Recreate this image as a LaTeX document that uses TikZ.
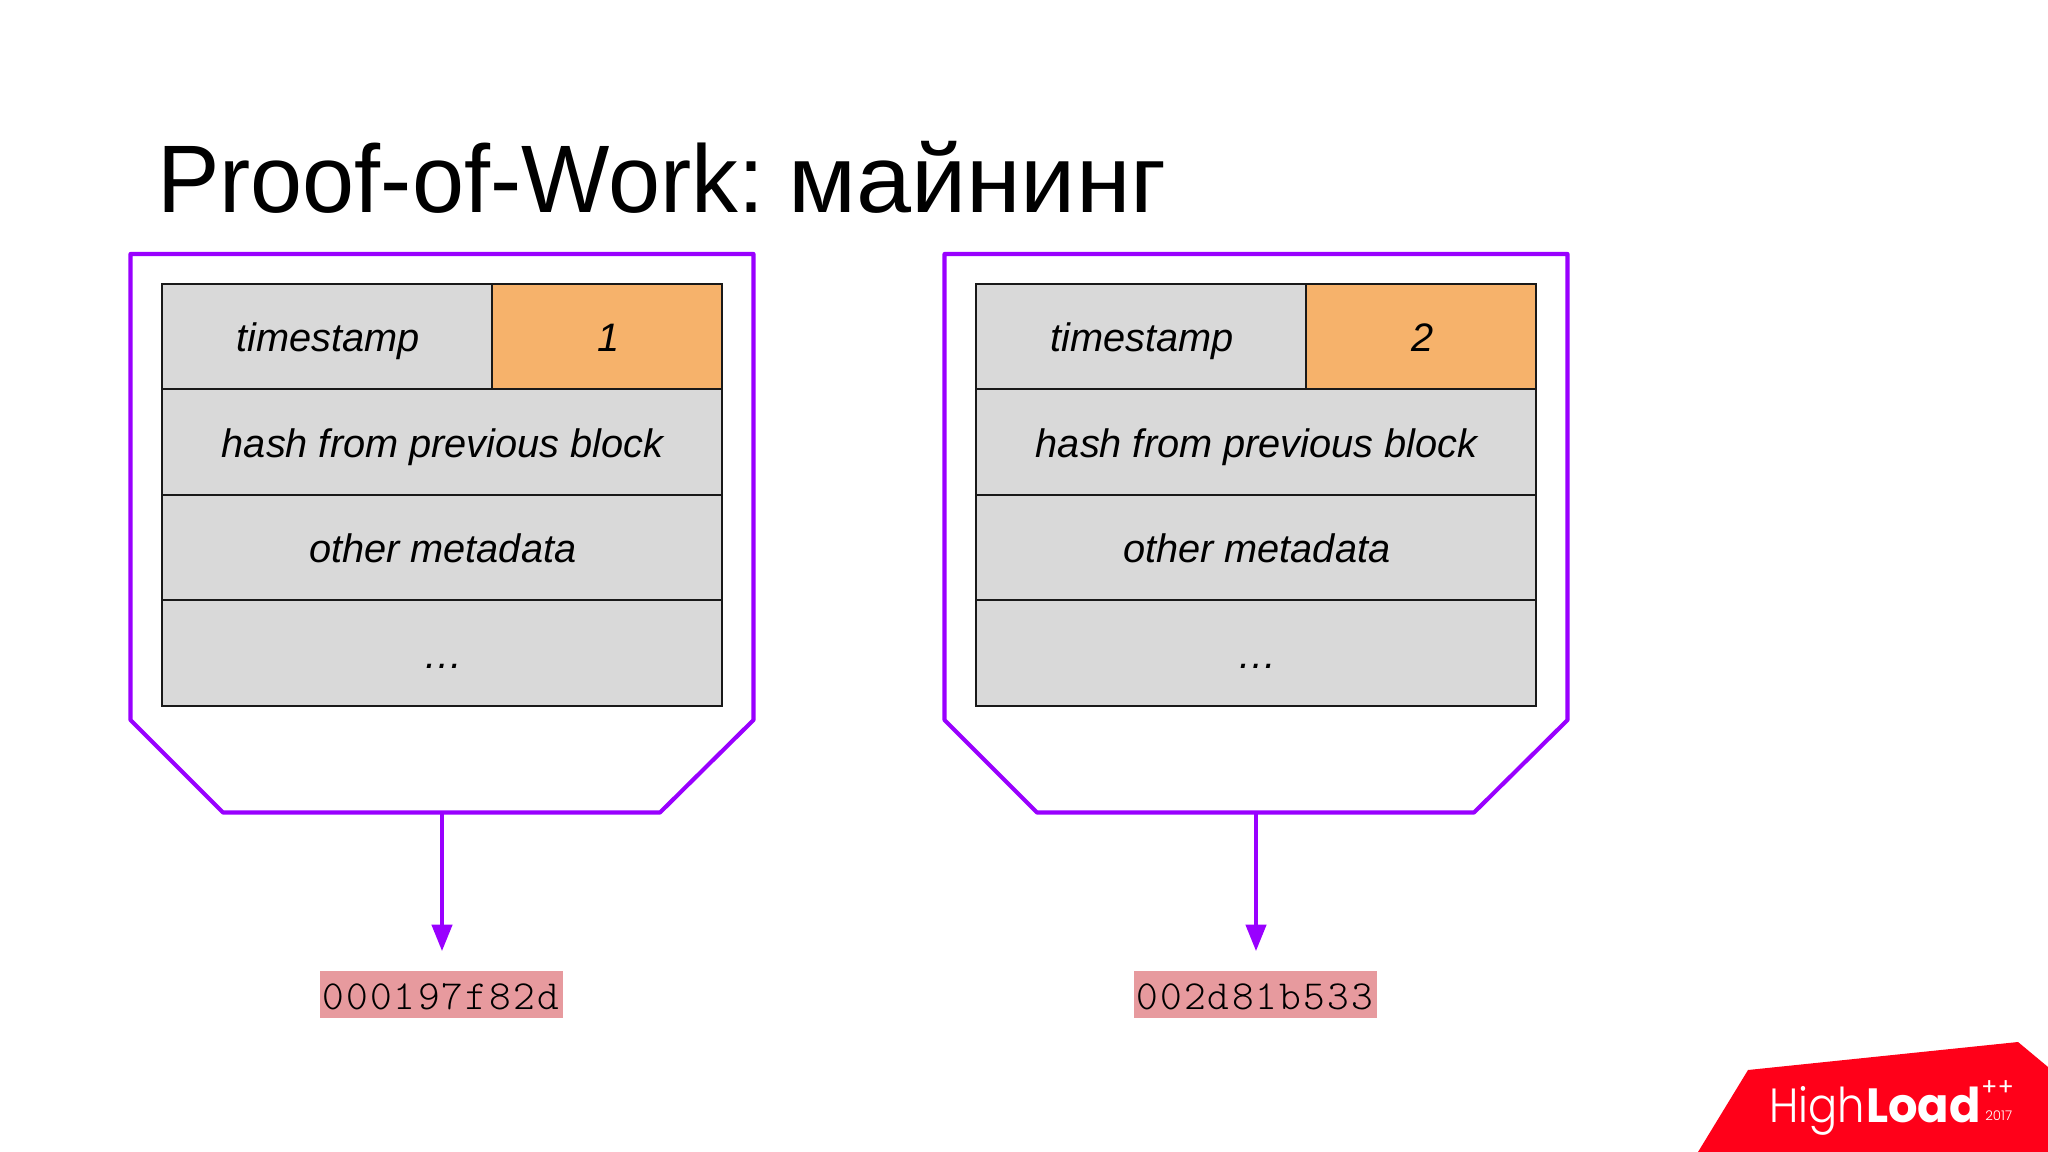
\documentclass[tikz,border=0pt]{standalone}
\usepackage{fontspec}
\usepackage{graphicx}
\usetikzlibrary{arrows.meta}
\setmainfont{Liberation Sans}
\newfontfamily\logolight{Poppins Light}
\newfontfamily\logofont{Poppins}
\newfontfamily\hashfont[LetterSpace=5.5]{Latin Modern Mono Light}
\definecolor{pow}{HTML}{9900FF}
\definecolor{cellgray}{HTML}{D9D9D9}
\definecolor{cellorange}{HTML}{F6B26B}
\definecolor{hashpink}{HTML}{E79A9E}
\definecolor{logored}{HTML}{FF0019}
\tikzset{
  cell/.style={draw=black!90,line width=1.7pt,fill=cellgray,inner sep=0pt,minimum height=79.1pt,
    text height=28pt,text depth=5.1pt,font=\fontsize{29.8}{36}\selectfont\itshape},
  rowcell/.style={cell,minimum width=420pt},
  tscell/.style={cell,minimum width=247.5pt},
  numcell/.style={cell,minimum width=172.5pt,fill=cellorange},
  frame/.style={draw=pow,line width=3.1pt,line join=round},
  hashbox/.style={fill=hashpink,inner sep=0pt,minimum width=182.25pt,minimum height=35.5pt,
    text height=28pt,text depth=6.25pt,font=\hashfont\fontsize{31}{40}\selectfont},
  hasharrow/.style={draw=pow,line width=3.4pt,shorten >=14.5pt,
    -{Triangle[length=20pt,width=15pt,fill=pow]}},
}
\newcommand{\powblock}[3]{%
  \begin{scope}[shift={(#1,0)}]
    \coordinate (p1) at (130.5,254);
    \coordinate (p2) at (753.5,254);
    \coordinate (p3) at (753.5,720);
    \coordinate (p4) at (660,812.5);
    \coordinate (p5) at (223,812.5);
    \coordinate (p6) at (130.5,720);
    \draw[frame] (p1) -- (p2) -- (p3) -- (p4) -- (p5) -- (p6) -- cycle;
    \node[tscell] (ts) at (327,336.4) {\hspace*{2pt}timestamp};
    \node[numcell] (num) at (607,336.4) {\hspace*{2pt}#2};
    \node[rowcell] (hash) at (442,441.9) {\hspace*{1pt}hash from previous block};
    \node[rowcell] (meta) at (442,547.4) {\hspace*{1pt}other metadata};
    \node[rowcell] (more) at (442,652.9) {\hspace*{2pt}\dots};
    \coordinate (out) at (442,812);
    \node[hashbox] (res) at (441.5,994.5) {#3\hspace*{1pt}};
    \draw[hasharrow] (out) -- (out |- res.north);
  \end{scope}}
\begin{document}
\begin{tikzpicture}[x=0.75pt,y=-0.75pt]
  \useasboundingbox[fill=white] (0,0) rectangle (2048,1152);
  \node[anchor=base west,inner sep=0pt,font=\fontsize{72}{80}\selectfont] (title) at (157,213) {\scalebox{0.975}[1]{Proof-of-Work:}\hspace{18pt}\scalebox{1.03}[1]{майнинг}};
  \begin{scope}[name prefix=a-]\powblock{0}{1}{000197f82d}\end{scope}
  \begin{scope}[name prefix=b-]\powblock{814}{2}{002d81b533}\end{scope}
  \fill[logored] (1748,1070) -- (2018,1042) -- (2048,1067) -- (2048,1152) -- (1698,1152) -- cycle;
  \node[anchor=base west,inner sep=0pt,text=white,font=\logolight\fontsize{36}{40}\selectfont] (logoa) at (1769,1122) {\scalebox{0.9}[1]{High}};
  \node[anchor=base west,inner sep=0pt,text=white,font=\logofont\bfseries\fontsize{36}{40}\selectfont] (logob) at (1866,1122) {\scalebox{0.965}[1]{Load}};
  \node[inner sep=0pt,text=white,font=\logofont\fontsize{18}{24}\selectfont] (plus) at (1997.5,1088) {++};
  \node[anchor=base west,inner sep=0pt,text=white,font=\logolight\fontsize{10}{12}\selectfont] (year) at (1985,1120) {2017};
\end{tikzpicture}
\end{document}
